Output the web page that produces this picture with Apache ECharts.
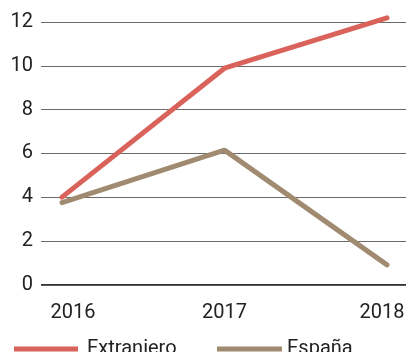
<!DOCTYPE html>
<html><head><meta charset="utf-8">
<script src="https://cdn.jsdelivr.net/npm/echarts@6/dist/echarts.min.js"></script>
<style>html,body{margin:0;padding:0;background:#fff}#c{width:409px;height:352px}</style>
</head><body><div id="c"></div>
<script>
const categories = ['2016', '2017', '2018'];
const extranjero = [4.0, 9.9, 12.2];
const espana = [3.75, 6.15, 0.9];
const yTicks = [0, 2, 4, 6, 8, 10, 12];

const chart = echarts.init(document.getElementById('c'), null, {renderer: 'canvas'});
const font = 'Roboto, "Liberation Sans", sans-serif';
chart.setOption({
  animation: false,
  backgroundColor: '#fff',
  grid: [
    {left: 41, right: 3, top: 22.3, bottom: 352 - 284.5},
    {left: 62, right: 22, top: 22.3, bottom: 352 - 284.5}
  ],
  xAxis: [
    {gridIndex: 0, type: 'category', data: categories, show: false},
    {gridIndex: 1, type: 'category', data: categories, boundaryGap: false,
     axisLine: {show: false}, axisTick: {show: false},
     axisLabel: {margin: 18, color: '#222', fontSize: 20, fontFamily: font,
       formatter: function (v, i) { return i === 0 ? '{a|' + v + '}' : (i === 2 ? '{c|' + v + '}' : v); },
       rich: {a: {padding: [0, 0, 0, 22], fontSize: 20, fontFamily: font, color: '#222'},
              c: {padding: [0, 10, 0, 0], fontSize: 20, fontFamily: font, color: '#222'}}}}
  ],
  yAxis: [
    {gridIndex: 0, type: 'value', min: yTicks[0], max: yTicks[yTicks.length - 1], interval: 2,
     axisLine: {show: false}, axisTick: {show: false},
     axisLabel: {margin: 8, color: '#222', fontSize: 20, fontFamily: font},
     splitLine: {lineStyle: {color: '#6a6a6a', width: 1}}},
    {gridIndex: 1, type: 'value', min: 0, max: 12, show: false}
  ],
  legend: [
    {data: ['Extraniero'], left: 14, top: 339, padding: 0, icon: 'rect', itemWidth: 64, itemHeight: 5,
     textStyle: {fontSize: 20, fontFamily: font, color: '#222', padding: [0, 0, 0, 4]}},
    {data: ['España'], left: 217, top: 339, padding: 0, icon: 'rect', itemWidth: 65, itemHeight: 5,
     textStyle: {fontSize: 20, fontFamily: font, color: '#222'}}
  ],
  series: [
    {name: 'Extraniero', type: 'line', xAxisIndex: 1, yAxisIndex: 1, data: extranjero, clip: false,
     symbol: 'none', color: '#d9625a', lineStyle: {width: 5, color: '#d9625a', cap: 'round'}, z: 3},
    {name: 'España', type: 'line', xAxisIndex: 1, yAxisIndex: 1, data: espana, clip: false,
     symbol: 'none', color: '#a08a70', lineStyle: {width: 5, color: '#a08a70', cap: 'round'}, z: 2},
    {type: 'line', xAxisIndex: 0, yAxisIndex: 0, data: [], silent: true,
     markLine: {silent: true, symbol: 'none', label: {show: false},
       lineStyle: {color: '#222', width: 1.5, type: 'solid'}, data: [{yAxis: 0}]}}
  ]
});
</script></body></html>
